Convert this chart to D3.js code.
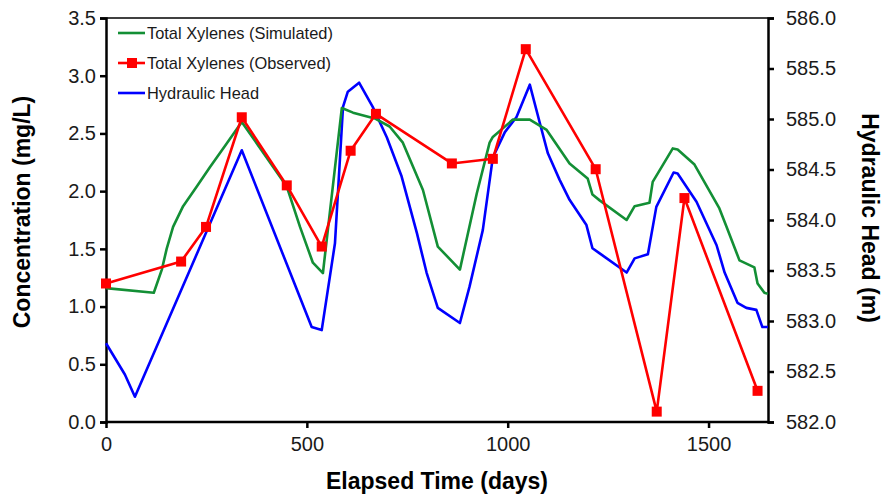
<!DOCTYPE html>
<html><head><meta charset="utf-8">
<script src="https://cdn.jsdelivr.net/npm/d3@7"></script>
<style>body{margin:0;background:#fff;}svg{display:block;font-family:"Liberation Sans",Arial,sans-serif;}</style>
</head><body>
<svg id="chart" width="888" height="498"></svg>
<script>
// Observed total xylenes (mg/L)
const obsDays = [0, 187, 249, 338, 450, 537, 609, 672, 861, 963, 1045, 1219, 1371, 1440, 1622];
const obsConc = [1.20, 1.39, 1.69, 2.64, 2.05, 1.52, 2.35, 2.67, 2.24, 2.28, 3.23, 2.19, 0.09, 1.94, 0.27];

// Simulated total xylenes (mg/L)
const simDays = [0, 119, 139, 151, 167, 192, 226, 259, 300, 338, 450, 483, 515, 540, 587, 615, 669, 706, 739, 789, 826, 881, 923, 955, 963, 1013, 1055, 1097, 1154, 1199, 1211, 1229, 1296, 1316, 1353, 1361, 1411, 1423, 1465, 1527, 1545, 1577, 1614, 1622, 1639, 1648];
const simConc = [1.16, 1.12, 1.32, 1.50, 1.69, 1.87, 2.04, 2.21, 2.41, 2.60, 2.04, 1.69, 1.38, 1.29, 2.72, 2.68, 2.63, 2.56, 2.42, 2.01, 1.52, 1.32, 1.98, 2.42, 2.47, 2.62, 2.62, 2.53, 2.24, 2.11, 1.97, 1.92, 1.75, 1.87, 1.90, 2.08, 2.37, 2.36, 2.23, 1.85, 1.69, 1.40, 1.34, 1.20, 1.12, 1.11];

// Hydraulic head (m)
const headDays = [0, 47, 72, 338, 512, 537, 570, 590, 602, 630, 664, 699, 736, 774, 798, 826, 881, 905, 938, 963, 993, 1022, 1055, 1080, 1100, 1129, 1154, 1196, 1211, 1229, 1296, 1316, 1349, 1370, 1413, 1423, 1470, 1520, 1540, 1572, 1594, 1619, 1634, 1648];
const headVals = [582.78, 582.47, 582.25, 584.69, 582.94, 582.91, 583.77, 585.12, 585.27, 585.36, 585.12, 584.82, 584.43, 583.87, 583.48, 583.13, 582.98, 583.34, 583.90, 584.62, 584.87, 585.02, 585.34, 584.96, 584.66, 584.40, 584.20, 583.95, 583.72, 583.67, 583.48, 583.62, 583.66, 584.13, 584.47, 584.46, 584.18, 583.75, 583.48, 583.18, 583.13, 583.11, 582.94, 582.94];

const xTicks = [0, 500, 1000, 1500];
const yLeftTicks = [0, 0.5, 1.0, 1.5, 2.0, 2.5, 3.0, 3.5];
const yRightTicks = [582.0, 582.5, 583.0, 583.5, 584.0, 584.5, 585.0, 585.5, 586.0];
const legendLabels = ["Total Xylenes (Simulated)", "Total Xylenes (Observed)", "Hydraulic Head"];

const colGreen = "#138f35", colRed = "#ff0000", colBlue = "#0000ff";

const svg = d3.select("#chart");
const L = 106, R = 768, T = 18, B = 422;
const x = d3.scaleLinear().domain([0, 1648]).range([L, R]);
const yL = d3.scaleLinear().domain([0, 3.5]).range([B, T]);
const yR = d3.scaleLinear().domain([582, 586]).range([B, T]);

// top border
svg.append("line").attr("x1", L).attr("x2", R).attr("y1", T).attr("y2", T)
  .attr("stroke", "#000").attr("stroke-width", 1.5);

const axB = svg.append("g").attr("transform", `translate(0,${B})`)
  .call(d3.axisBottom(x).tickValues(xTicks).tickFormat(d3.format("d")).tickSizeOuter(0).tickSize(6).tickPadding(9));
const axL = svg.append("g").attr("transform", `translate(${L},0)`)
  .call(d3.axisLeft(yL).tickValues(yLeftTicks).tickFormat(d3.format(".1f")).tickSizeOuter(0).tickSize(6).tickPadding(4));
const axR = svg.append("g").attr("transform", `translate(${R},0)`)
  .call(d3.axisRight(yR).tickValues(yRightTicks).tickFormat(d3.format(".1f")).tickSizeOuter(0).tickSize(6).tickPadding(12));
[axB, axL, axR].forEach(a => {
  a.select(".domain").attr("stroke", "#000").attr("stroke-width", 2.5);
  a.selectAll(".tick line").attr("stroke", "#000").attr("stroke-width", 2.5);
  a.selectAll(".tick text").attr("fill", "#1a1a1a").style("font-size", "20px");
});
axB.select(".domain").attr("d", `M${L},0H${R}`);

const lineL = (xs, ys) => d3.line().x((d, i) => x(xs[i])).y((d, i) => yL(ys[i]));
const lineR = (xs, ys) => d3.line().x((d, i) => x(xs[i])).y((d, i) => yR(ys[i]));

svg.append("path").datum(headVals).attr("d", lineR(headDays, headVals))
  .attr("fill", "none").attr("stroke", colBlue).attr("stroke-width", 2.6).attr("stroke-linejoin", "round");
svg.append("path").datum(simConc).attr("d", lineL(simDays, simConc))
  .attr("fill", "none").attr("stroke", colGreen).attr("stroke-width", 2.6).attr("stroke-linejoin", "round");
svg.append("path").datum(obsConc).attr("d", lineL(obsDays, obsConc))
  .attr("fill", "none").attr("stroke", colRed).attr("stroke-width", 2.6).attr("stroke-linejoin", "round");
svg.selectAll("rect.obs").data(obsConc).enter().append("rect").attr("class", "obs")
  .attr("x", (d, i) => x(obsDays[i]) - 5).attr("y", d => yL(d) - 5)
  .attr("width", 10).attr("height", 10).attr("fill", colRed);

// legend
const lg = svg.append("g");
const lgCols = [colGreen, colRed, colBlue];
legendLabels.forEach((lab, i) => {
  const yy = 33 + i * 30;
  lg.append("line").attr("x1", 118).attr("x2", 145).attr("y1", yy).attr("y2", yy)
    .attr("stroke", lgCols[i]).attr("stroke-width", 2.6);
  if (i === 1) lg.append("rect").attr("x", 127).attr("y", yy - 5).attr("width", 10).attr("height", 10).attr("fill", colRed);
  lg.append("text").attr("x", 147).attr("y", yy + 6).text(lab)
    .style("font-size", "16.4px").attr("fill", "#1a1a1a");
});

// axis titles
svg.append("text").attr("x", 437).attr("y", 489).attr("text-anchor", "middle")
  .style("font-size", "23px").style("font-weight", "bold").text("Elapsed Time (days)");
svg.append("text").attr("transform", "translate(30,212) rotate(-90)").attr("text-anchor", "middle")
  .style("font-size", "23px").style("font-weight", "bold").text("Concentration (mg/L)");
svg.append("text").attr("transform", "translate(862,218) rotate(90)").attr("text-anchor", "middle")
  .style("font-size", "23px").style("font-weight", "bold").text("Hydraulic Head (m)");
</script>
</body></html>
